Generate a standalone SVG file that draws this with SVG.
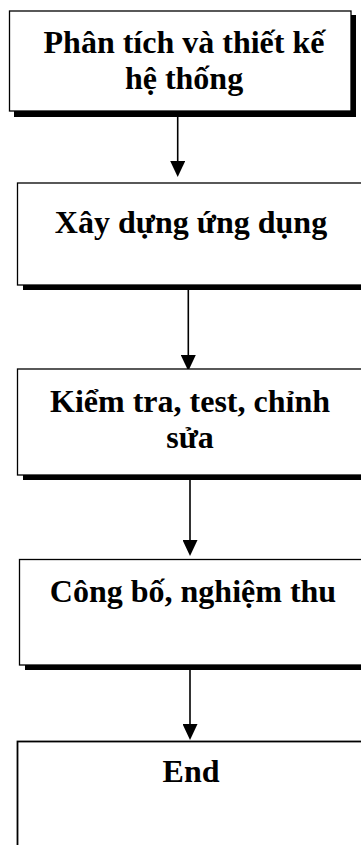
<svg xmlns="http://www.w3.org/2000/svg" width="361" height="845" viewBox="0 0 361 845">
  <style>
    .shadow { fill: #000; }
    .box { fill: #fff; stroke: #000; stroke-width: 1.3; }
    .box.end { stroke-width: 1.8; }
    .label { font-family: "Liberation Serif", "Times New Roman", serif; font-weight: bold; font-size: 32px; fill: #000; text-anchor: middle; }
    .link { stroke: #000; stroke-width: 1.6; fill: none; marker-end: url(#arrow); }
  </style>
  <defs>
    <marker id="arrow" viewBox="0 0 16 15" refX="7" refY="7.5" markerWidth="16" markerHeight="15" markerUnits="userSpaceOnUse" orient="auto">
      <path d="M0,0 L16,7.5 L0,15 Z" fill="#000"/>
    </marker>
  </defs>
  <rect width="361" height="845" fill="#fff"/>

  <g id="connectors">
    <line class="link" x1="177.7" y1="116" x2="177.7" y2="168"/>
    <line class="link" x1="188.3" y1="289" x2="188.3" y2="362"/>
    <line class="link" x1="190" y1="479" x2="190" y2="547"/>
    <line class="link" x1="190" y1="669" x2="190" y2="731"/>
  </g>

  <g id="analysis">
    <rect class="shadow" x="14" y="15" width="342" height="102"/>
    <rect class="box" x="9.5" y="11" width="341.5" height="100"/>
    <text class="label" x="184" y="53">Phân tích và thiết kế</text>
    <text class="label" x="184" y="89">hệ thống</text>
  </g>

  <g id="build">
    <rect class="shadow" x="23" y="187" width="360" height="103"/>
    <rect class="box" x="17.5" y="183" width="360" height="102"/>
    <text class="label" x="191" y="233">Xây dựng ứng dụng</text>
  </g>

  <g id="testing">
    <rect class="shadow" x="23" y="373" width="360" height="107"/>
    <rect class="box" x="17.5" y="369" width="360" height="106"/>
    <text class="label" x="190" y="412">Kiểm tra, test, chỉnh</text>
    <text class="label" x="190" y="448">sửa</text>
  </g>

  <g id="release">
    <rect class="shadow" x="25" y="563" width="360" height="107"/>
    <rect class="box" x="19.5" y="559.5" width="360" height="105.5"/>
    <text class="label" x="193" y="602">Công bố, nghiệm thu</text>
  </g>

  <g id="end">
    <rect class="box end" x="17.5" y="741.5" width="360" height="200"/>
    <text class="label" x="191" y="782">End</text>
  </g>
</svg>
